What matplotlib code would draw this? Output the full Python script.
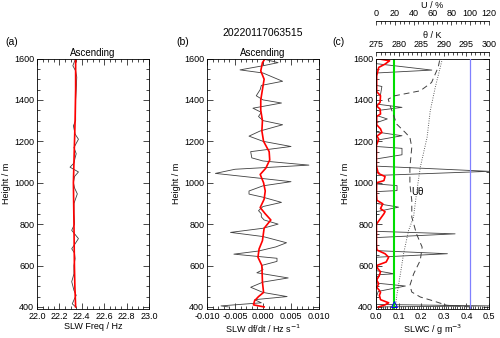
import matplotlib
matplotlib.use("Agg")
import matplotlib.pyplot as plt
from matplotlib.ticker import MultipleLocator, FormatStrFormatter

plt.rcParams['font.family'] = ['Liberation Sans', 'DejaVu Sans']
plt.rcParams['font.size'] = 6.5

# (a) SLW frequency
h_freq = [400, 415, 440, 456, 480, 522, 560, 600, 633, 660, 681, 705, 730, 770, 800,
          850, 900, 946, 975, 1000, 1030, 1052, 1075, 1095, 1120, 1140, 1170, 1210,
          1235, 1275, 1300, 1350, 1400, 1450, 1510, 1540, 1565, 1600]
freq = [22.345, 22.315, 22.335, 22.35, 22.33, 22.31, 22.33, 22.33, 22.34, 22.335,
        22.31, 22.34, 22.37, 22.31, 22.335, 22.33, 22.33, 22.36, 22.335, 22.325,
        22.335, 22.37, 22.295, 22.33, 22.34, 22.35, 22.33, 22.37, 22.34, 22.325,
        22.345, 22.345, 22.345, 22.35, 22.355, 22.345, 22.32, 22.345]
h_freq_s = [400, 500, 600, 800, 1000, 1100, 1300, 1450, 1600]
freq_s = [22.345, 22.338, 22.334, 22.33, 22.325, 22.33, 22.34, 22.345, 22.345]

# (b) SLW df/dt
h_dfdt = [400, 405, 420, 435, 450, 470, 495, 520, 540, 565, 580, 600, 620, 635, 655,
          670, 690, 710, 740, 760, 780, 800, 820, 835, 850, 865, 885, 905, 930, 945,
          960, 985, 1005, 1020, 1045, 1065, 1085, 1105, 1120, 1150, 1175, 1200, 1225,
          1250, 1280, 1300, 1320, 1340, 1360, 1385, 1400, 1420, 1450, 1470, 1490,
          1530, 1545, 1565, 1580, 1600]
dfdt = [-0.0062, -0.0075, -0.0003, -0.0015, 0.0043, 0.0, -0.0022, 0.0, 0.0045, -0.0011,
        0.0, -0.0003, 0.0025, 0.0025, -0.0052, -0.0008, 0.0023, 0.0042, 0.0, -0.0058,
        0.0, 0.0027, 0.0002, -0.0003, -0.0003, -0.0008, 0.0, 0.0033, 0.0, -0.0025,
        -0.0025, 0.0, 0.005, 0.0, -0.0085, -0.005, 0.0082, 0.0, -0.002, -0.0022,
        0.005, 0.0, -0.0025, -0.0005, 0.0035, 0.0, -0.0008, -0.0003, -0.0018, 0.0033,
        0.0, -0.0012, -0.0005, -0.0003, 0.0035, 0.0, -0.0041, 0.0, 0.0027, -0.0003]
h_dfdt_s = [400, 410, 430, 450, 470, 520, 600, 640, 680, 720, 780, 820, 850, 880, 920,
            960, 1000, 1040, 1070, 1110, 1150, 1200, 1250, 1300, 1350, 1400, 1450,
            1500, 1540, 1580, 1600]
dfdt_s = [0.0002, -0.0017, -0.0015, -0.0008, 0.0001, -0.0001, -0.0002, -0.0009,
          -0.0007, -0.0001, 0.0002, 0.0014, 0.0004, -0.0005, 0.0002, 0.0004, 0.0001,
          -0.0005, 0.0005, 0.0012, 0.0011, 0.0001, -0.0002, -0.0001, -0.0004, -0.0004,
          -0.0001, 0.0002, -0.0004, -0.0001, 0.0004]

# (c) SLWC, humidity and potential temperature
h_slwc = [400, 405, 412, 450, 475, 501, 515, 555, 560, 575, 640, 657, 672, 735, 753,
          765, 860, 882, 900, 957, 962, 986, 994, 1035, 1055, 1080, 1115, 1135, 1166,
          1175, 1205, 1227, 1245, 1290, 1308, 1325, 1348, 1364, 1380, 1420, 1425, 1465,
          1470, 1530, 1544, 1575, 1600]
slwc = [0.0, 0.5, 0.002, 0.002, 0.01, 0.13, 0.002, 0.002, 0.08, 0.002, 0.002, 0.316,
        0.002, 0.002, 0.35, 0.002, 0.002, 0.1, 0.002, 0.002, 0.093, 0.093, 0.002,
        0.002, 0.5, 0.002, 0.002, 0.115, 0.115, 0.002, 0.002, 0.115, 0.002, 0.002,
        0.05, 0.002, 0.002, 0.115, 0.002, 0.002, 0.02, 0.026, 0.002, 0.002, 0.247,
        0.002, 0.002]
h_slwc_s = [400, 410, 420, 435, 456, 470, 480, 495, 512, 530, 553, 570, 585, 600, 617,
            640, 657, 675, 700, 800, 850, 860, 875, 898, 915, 950, 1000, 1010, 1030,
            1045, 1080, 1180, 1211, 1225, 1243, 1260, 1280, 1320, 1332, 1356, 1370,
            1388, 1420, 1440, 1516, 1557, 1573, 1589, 1600]
slwc_s = [0.012, 0.04, 0.056, 0.02, 0.015, 0.02, 0.015, 0.003, 0.012, 0.003, 0.015,
          0.02, 0.008, 0.003, 0.045, 0.056, 0.04, 0.004, 0.002, 0.002, 0.035, 0.04,
          0.02, 0.03, 0.004, 0.002, 0.003, 0.035, 0.04, 0.01, 0.002, 0.002, 0.012,
          0.004, 0.026, 0.02, 0.003, 0.003, 0.02, 0.018, 0.003, 0.018, 0.02, 0.003,
          0.003, 0.012, 0.04, 0.06, 0.003]
h_rh = [400, 408, 429, 448, 472, 504, 560, 625, 689, 753, 834, 914, 994, 1075, 1171,
        1219, 1243, 1283, 1372, 1404, 1420, 1428, 1444, 1484, 1557, 1600]
rh = [100, 75, 61, 47, 38, 36, 40, 47, 49, 43, 38, 38, 36, 36, 38, 36, 31, 22, 15, 13,
      20, 29, 47, 59, 66, 68]
h_theta = [400, 456, 560, 657, 769, 834, 954, 1075, 1219, 1347, 1460, 1600]
theta = [279.3, 279.6, 280.4, 281.1, 282.2, 283.3, 284.0, 284.8, 286.3, 287.0, 288.1, 289.7]
slwc_thresh = 0.08
rh_sat = 100
base_h, base_slwc = 416, 0.078

W, H = 500, 338
fig = plt.figure(figsize=(5, 3.38), dpi=100)

def make_ax(x0, x1):
    ax = fig.add_axes([x0 / W, 1 - 309 / H, (x1 - x0) / W, (309 - 58.5) / H])
    ax.set_ylim(390, 1600)
    ax.yaxis.set_major_locator(MultipleLocator(200))
    ax.yaxis.set_minor_locator(MultipleLocator(50))
    ax.tick_params(which='both', direction='in', top=True, right=True, labelsize=6.5, pad=2)
    ax.tick_params(which='major', length=4, width=0.5)
    ax.tick_params(which='minor', length=2, width=0.5)
    for s in ax.spines.values():
        s.set_linewidth(0.6)
    ax.set_ylabel('Height / m', fontsize=6.5, labelpad=2)
    return ax

gray = '#404040'

ax1 = make_ax(37, 149)
ax1.plot(freq, h_freq, color=gray, lw=0.6)
ax1.plot(freq_s, h_freq_s, color='red', lw=1.2)
ax1.set_xlim(22.0, 23.0)
ax1.xaxis.set_major_locator(MultipleLocator(0.2))
ax1.xaxis.set_minor_locator(MultipleLocator(0.05))
ax1.xaxis.set_major_formatter(FormatStrFormatter('%.1f'))
ax1.set_xlabel('SLW Freq / Hz', fontsize=6.5, labelpad=1)
ax1.set_title('Ascending', fontsize=7, pad=2)

ax2 = make_ax(207, 319)
ax2.plot(dfdt, h_dfdt, color=gray, lw=0.6)
ax2.plot(dfdt_s, h_dfdt_s, color='red', lw=1.2)
ax2.set_xlim(-0.010, 0.010)
ax2.xaxis.set_major_locator(MultipleLocator(0.005))
ax2.xaxis.set_minor_locator(MultipleLocator(0.001))
ax2.xaxis.set_major_formatter(FormatStrFormatter('%.3f'))
ax2.set_xlabel('SLW df/dt / Hz s$^{-1}$', fontsize=6.5, labelpad=1)
ax2.set_title('Ascending', fontsize=7, pad=2)

ax3 = make_ax(376, 489)
ax3.plot(slwc, h_slwc, color=gray, lw=0.6)
ax3.plot(slwc_s, h_slwc_s, color='red', lw=1.2)
ax3.axvline(slwc_thresh, color='#00dd00', lw=1.5)
ax3.plot([base_slwc], [base_h], marker='^', ms=4, mfc='none', mec='blue', mew=0.7)
ax3.set_xlim(0, 0.5)
ax3.xaxis.set_major_locator(MultipleLocator(0.1))
ax3.xaxis.set_minor_locator(MultipleLocator(0.01))
ax3.xaxis.set_major_formatter(FormatStrFormatter('%.1f'))
ax3.set_xlabel('SLWC / g m$^{-3}$', fontsize=6.5, labelpad=1)
ax3.text(0.155, 954, 'U\u03b8', fontsize=7, va='center', ha='left')

def top_axis(offset, lo, hi, major, minor, label):
    t = ax3.twiny()
    t.set_xlim(lo, hi)
    for k in ['bottom', 'left', 'right']:
        t.spines[k].set_visible(False)
    t.spines['top'].set_position(('outward', offset))
    t.spines['top'].set_linewidth(0.6)
    t.xaxis.set_major_locator(MultipleLocator(major))
    t.xaxis.set_minor_locator(MultipleLocator(minor))
    t.tick_params(which='both', direction='in', labelsize=6.5, pad=2)
    t.tick_params(which='major', length=3, width=0.5)
    t.tick_params(which='minor', length=1.8, width=0.5)
    t.set_xlabel(label, fontsize=6.5, labelpad=1)
    t.patch.set_visible(False)
    return t

axt = top_axis(5.0, 275, 300, 5, 1, '\u03b8 / K')
axt.plot(theta, h_theta, color=gray, lw=0.7, ls=(0, (0.8, 1.6)))
axu = top_axis(27.0, 0, 120, 20, 5, 'U / %')
axu.plot(rh, h_rh, color=gray, lw=0.7, ls=(0, (6, 4)))
axu.axvline(rh_sat, color='#8080ff', lw=0.9)

fig.text(263 / W, 1 - 33 / H, '20220117063515', fontsize=7.5, ha='center', va='center')
fig.text(5 / W, 1 - 42 / H, '(a)', fontsize=7.5, ha='left', va='center')
fig.text(176 / W, 1 - 42 / H, '(b)', fontsize=7.5, ha='left', va='center')
fig.text(332 / W, 1 - 42 / H, '(c)', fontsize=7.5, ha='left', va='center')

fig.savefig('out.png', dpi=100)
